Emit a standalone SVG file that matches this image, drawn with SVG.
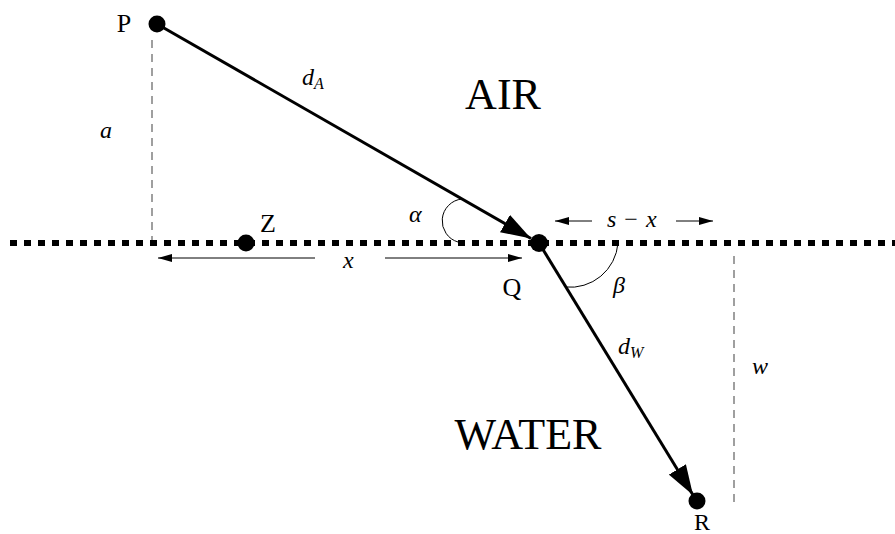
<svg xmlns="http://www.w3.org/2000/svg" width="895" height="534" viewBox="0 0 895 534">
<style>
.lbl{font-family:"Liberation Serif","DejaVu Serif",serif;fill:#000}
.big{font-size:44px}
.pt{font-size:26px}
.math{font-family:"Liberation Serif","DejaVu Serif",serif;font-style:italic;font-size:24px;fill:#000}
.sub{font-size:16px}
.ray{stroke:#000;stroke-width:3;fill:none;marker-end:url(#bigArrow)}
.dim{stroke:#000;stroke-width:1;fill:none;marker-end:url(#smallArrow)}
.guide{stroke:#808080;stroke-width:1.5;stroke-dasharray:8 6;fill:none}
.arc{stroke:#000;stroke-width:1;fill:none}
.dot{fill:#000}
</style>
<defs>
<marker id="bigArrow" viewBox="0 0 30 20" refX="30" refY="10" markerWidth="30" markerHeight="20" markerUnits="userSpaceOnUse" orient="auto">
<path d="M0,0 L30,10 L0,20 z" fill="#000"/>
</marker>
<marker id="smallArrow" viewBox="0 0 14 8" refX="14" refY="4" markerWidth="14" markerHeight="8" markerUnits="userSpaceOnUse" orient="auto">
<path d="M0,0 L14,4 L0,8 z" fill="#000"/>
</marker>
</defs>
<rect width="895" height="534" fill="#fff"/>
<g id="surface">
<line x1="10" y1="243" x2="895" y2="243" stroke="#000" stroke-width="6" stroke-dasharray="7 7"/>
</g>
<g id="guides">
<line class="guide" x1="152" y1="40" x2="152" y2="240"/>
<line class="guide" x1="734" y1="256" x2="734" y2="502"/>
</g>
<g id="connectors">
<line class="ray" x1="157" y1="24" x2="531" y2="238.5"/>
<line class="ray" x1="539" y1="243" x2="693" y2="495"/>
<line class="dim" x1="315" y1="258" x2="158" y2="258"/>
<line class="dim" x1="385" y1="258" x2="522" y2="258"/>
<line class="dim" x1="592" y1="221" x2="555" y2="221"/>
<line class="dim" x1="676" y1="221" x2="713" y2="221"/>
<path class="arc" d="M462,199 A22,22 0 0 0 458,242"/>
<path class="arc" d="M618,243 A48,48 0 0 1 565,287"/>
</g>
<g id="P">
<circle class="dot" cx="157" cy="24" r="8.5"/>
<text class="lbl pt" x="124" y="32" text-anchor="middle">P</text>
</g>
<g id="Z">
<circle class="dot" cx="246" cy="243" r="8.5"/>
<text class="lbl pt" x="268" y="232" text-anchor="middle">Z</text>
</g>
<g id="Q">
<circle class="dot" cx="539" cy="243" r="9"/>
<text class="lbl pt" x="512" y="296" text-anchor="middle">Q</text>
</g>
<g id="R">
<circle class="dot" cx="697" cy="501" r="8.5"/>
<text class="lbl" font-size="24" x="702" y="530" text-anchor="middle">R</text>
</g>
<g id="labels">
<text class="lbl big" x="503" y="109" text-anchor="middle">AIR</text>
<text class="lbl big" x="528" y="449" text-anchor="middle" textLength="147" lengthAdjust="spacingAndGlyphs">WATER</text>
<text class="math" x="302" y="85">d<tspan class="sub" dy="4">A</tspan></text>
<text class="math" x="100" y="138">a</text>
<text class="math" x="409" y="222">α</text>
<text class="math" x="343" y="268">x</text>
<text class="math" x="607" y="227">s<tspan font-style="normal" dx="8">−</tspan><tspan dx="8">x</tspan></text>
<text class="math" x="613" y="293">β</text>
<text class="math" x="618" y="354">d<tspan class="sub" dy="4">W</tspan></text>
<text class="math" x="752" y="374">w</text>
</g>
</svg>
